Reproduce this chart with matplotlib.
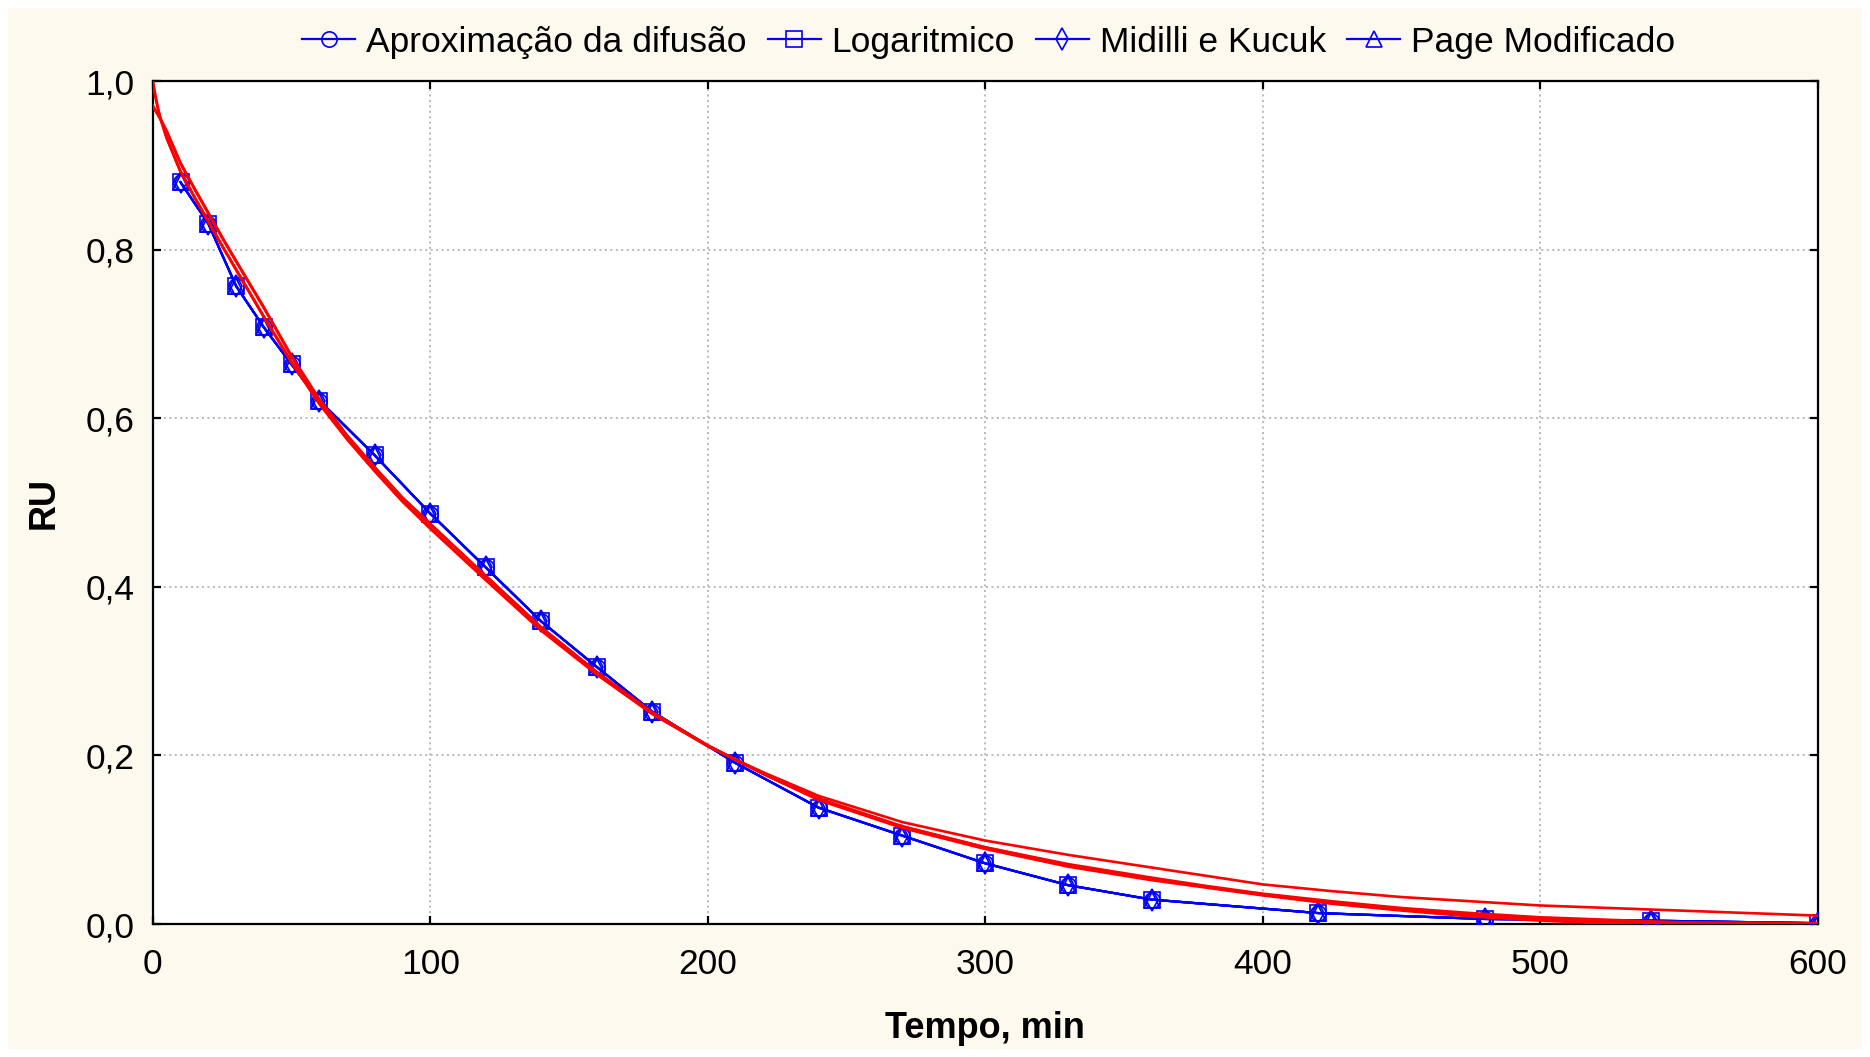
import matplotlib
matplotlib.use("Agg")
import matplotlib.pyplot as plt
from matplotlib.patches import Rectangle
from matplotlib.ticker import FuncFormatter, MultipleLocator

plt.rcParams["font.family"] = ["Liberation Sans", "DejaVu Sans"]

# experimental points (RU vs tempo)
tempo_exp = [10, 20, 30, 40, 50, 60, 80, 100, 120, 140, 160, 180, 210, 240,
             270, 300, 330, 360, 420, 480, 540, 600]
ru_exp = [0.880, 0.831, 0.757, 0.708, 0.664, 0.621, 0.556, 0.487, 0.423, 0.359,
          0.305, 0.252, 0.191, 0.138, 0.105, 0.072, 0.046, 0.029, 0.013, 0.006,
          0.004, 0.001]

series = ["Aproximação da difusão", "Logaritmico", "Midilli e Kucuk", "Page Modificado"]
markers = ["o", "s", "d", "^"]

# fitted model curves
tempo_modelo = [0, 1, 2, 3, 5, 10, 15, 20, 25, 30, 40, 50, 60, 70, 80, 90, 100,
                120, 140, 160, 180, 200, 210, 220, 240, 270, 300, 330, 360, 380,
                400, 425, 450, 475, 500, 550, 600]
ru_difusao = [1.000, 0.982, 0.966, 0.953, 0.932, 0.892, 0.862, 0.833, 0.804, 0.776,
              0.720, 0.666, 0.617, 0.575, 0.537, 0.501, 0.469, 0.408, 0.348, 0.296,
              0.249, 0.211, 0.195, 0.180, 0.152, 0.121, 0.099, 0.082, 0.067, 0.057,
              0.047, 0.039, 0.032, 0.027, 0.022, 0.016, 0.010]
ru_page = [1.000, 0.980, 0.965, 0.953, 0.933, 0.893, 0.863, 0.834, 0.805, 0.777,
           0.721, 0.667, 0.618, 0.576, 0.538, 0.502, 0.470, 0.409, 0.349, 0.297,
           0.250, 0.211, 0.195, 0.179, 0.149, 0.116, 0.091, 0.071, 0.055, 0.045,
           0.036, 0.027, 0.019, 0.013, 0.008, 0.002, 0.001]
ru_log = [0.970, 0.9645, 0.959, 0.953, 0.940, 0.902, 0.872, 0.843, 0.814, 0.786,
          0.731, 0.673, 0.622, 0.579, 0.541, 0.505, 0.474, 0.413, 0.352, 0.299,
          0.251, 0.212, 0.195, 0.178, 0.147, 0.114, 0.089, 0.068, 0.052, 0.043,
          0.034, 0.024, 0.016, 0.009, 0.004, -0.003, -0.008]
ru_midilli = [0.971, 0.965, 0.960, 0.954, 0.941, 0.903, 0.873, 0.844, 0.815, 0.787,
              0.732, 0.674, 0.623, 0.580, 0.542, 0.506, 0.475, 0.413, 0.352, 0.299,
              0.251, 0.212, 0.195, 0.178, 0.148, 0.116, 0.091, 0.070, 0.054, 0.044,
              0.035, 0.026, 0.018, 0.011, 0.006, 0.000, -0.004]

blue = "#0000FF"
red = "#FF0000"
cream = "#FDF9EE"

fig = plt.figure(figsize=(18.7, 10.57), dpi=100)
fig.patch.set_facecolor("white")
fig.add_artist(Rectangle((8 / 1870, 8 / 1057), 1 - 16 / 1870, 1 - 16 / 1057,
                         transform=fig.transFigure, facecolor=cream,
                         edgecolor="none", zorder=-10))

ax = fig.add_axes([0.0817, 0.1258, 0.8903, 0.7975])
ax.set_facecolor("white")

for name, m in zip(series, markers):
    ax.plot(tempo_exp, ru_exp, color=blue, lw=1.6, marker=m, ms=11,
            mfc="none", mec=blue, mew=1.2, label=name, zorder=3)

for curve in [ru_difusao, ru_page, ru_log, ru_midilli]:
    ax.plot(tempo_modelo, curve, color=red, lw=1.9, zorder=4)

ax.set_xlim(0, 600)
ax.set_ylim(0, 1.0)
ax.xaxis.set_major_locator(MultipleLocator(100))
ax.yaxis.set_major_locator(MultipleLocator(0.2))
ax.yaxis.set_major_formatter(FuncFormatter(lambda v, p: f"{v:.1f}".replace(".", ",")))

ax.grid(True, linestyle=(0, (1, 1.8)), color="#b8b8b8", lw=1.4, zorder=0)
for s in ax.spines.values():
    s.set_linewidth(1.6)
    s.set_color("black")

ax.tick_params(direction="in", length=6, width=1.6, top=True, right=True,
               labelsize=25.5)
ax.tick_params(axis="x", pad=17)
ax.tick_params(axis="y", pad=13)

ax.set_xlabel("Tempo, min", fontsize=26, fontweight="bold", va="center")
ax.xaxis.set_label_coords(0.5, -0.124)
ax.set_ylabel("RU", fontsize=26, fontweight="bold", ha="center", va="center")
ax.yaxis.set_label_coords(-0.0653, 0.5)

ax.legend(loc="center", bbox_to_anchor=(0.502, 1.046), ncol=4, frameon=False,
          fontsize=25.5, handlelength=1.5, handletextpad=0.3, columnspacing=0.6,
          borderaxespad=0)

fig.savefig("out.png", dpi=100, facecolor=fig.get_facecolor())
plt.close(fig)
